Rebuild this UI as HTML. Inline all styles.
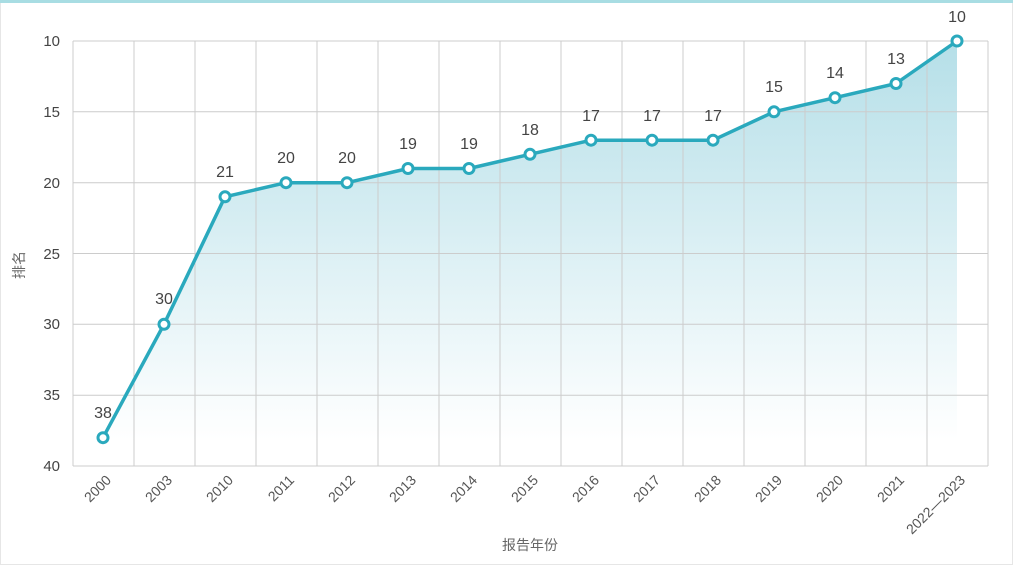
<!DOCTYPE html>
<html><head><meta charset="utf-8"><style>
html,body{margin:0;padding:0;background:#fff;}
svg{display:block;font-family:"Liberation Sans","Noto Sans CJK SC",sans-serif;}
</style></head><body>
<svg width="1013" height="565" viewBox="0 0 1013 565" xmlns="http://www.w3.org/2000/svg">
<defs>
<linearGradient id="fill" x1="0" y1="41" x2="0" y2="440" gradientUnits="userSpaceOnUse">
<stop offset="0" stop-color="#b5dfe8"/>
<stop offset="1" stop-color="#ffffff"/>
</linearGradient>
</defs>
<rect x="0" y="0" width="1013" height="565" fill="#fff" stroke="#e6e6e6" stroke-width="2"/>
<rect x="0" y="0" width="1013" height="3" fill="#a8dde3"/>
<polygon fill="url(#fill)" points="103,437.7 164,324.3 225,196.8 286,182.7 347,182.7 408,168.5 469,168.5 530,154.3 591,140.2 652,140.2 713,140.2 774,111.8 835,97.7 896,83.5 957,41 957,466 103,466"/>
<g stroke="#cccccc" stroke-width="1" fill="none">
<line x1="73" y1="41" x2="988" y2="41"/>
<line x1="73" y1="111.8" x2="988" y2="111.8"/>
<line x1="73" y1="182.7" x2="988" y2="182.7"/>
<line x1="73" y1="253.5" x2="988" y2="253.5"/>
<line x1="73" y1="324.3" x2="988" y2="324.3"/>
<line x1="73" y1="395.2" x2="988" y2="395.2"/>
<line x1="73" y1="466" x2="988" y2="466"/>
<line x1="73" y1="41" x2="73" y2="466"/><line x1="134" y1="41" x2="134" y2="466"/><line x1="195" y1="41" x2="195" y2="466"/><line x1="256" y1="41" x2="256" y2="466"/><line x1="317" y1="41" x2="317" y2="466"/><line x1="378" y1="41" x2="378" y2="466"/><line x1="439" y1="41" x2="439" y2="466"/><line x1="500" y1="41" x2="500" y2="466"/><line x1="561" y1="41" x2="561" y2="466"/><line x1="622" y1="41" x2="622" y2="466"/><line x1="683" y1="41" x2="683" y2="466"/><line x1="744" y1="41" x2="744" y2="466"/><line x1="805" y1="41" x2="805" y2="466"/><line x1="866" y1="41" x2="866" y2="466"/><line x1="927" y1="41" x2="927" y2="466"/><line x1="988" y1="41" x2="988" y2="466"/>
</g>
<g fill="#444" font-size="15" text-anchor="end">
<text x="60" y="46">10</text><text x="60" y="117">15</text><text x="60" y="188">20</text><text x="60" y="259">25</text><text x="60" y="329">30</text><text x="60" y="400">35</text><text x="60" y="471">40</text>
</g>
<text x="24" y="265" fill="#666" font-size="14" text-anchor="middle" transform="rotate(-90 24 265)">排名</text>
<text x="530" y="550" fill="#666" font-size="14" text-anchor="middle">报告年份</text>
<g fill="#555" font-size="14" text-anchor="end">
<text transform="translate(112,481) rotate(-45)">2000</text>
<text transform="translate(173,481) rotate(-45)">2003</text>
<text transform="translate(234,481) rotate(-45)">2010</text>
<text transform="translate(295,481) rotate(-45)">2011</text>
<text transform="translate(356,481) rotate(-45)">2012</text>
<text transform="translate(417,481) rotate(-45)">2013</text>
<text transform="translate(478,481) rotate(-45)">2014</text>
<text transform="translate(539,481) rotate(-45)">2015</text>
<text transform="translate(600,481) rotate(-45)">2016</text>
<text transform="translate(661,481) rotate(-45)">2017</text>
<text transform="translate(722,481) rotate(-45)">2018</text>
<text transform="translate(783,481) rotate(-45)">2019</text>
<text transform="translate(844,481) rotate(-45)">2020</text>
<text transform="translate(905,481) rotate(-45)">2021</text>
<text transform="translate(966,481) rotate(-45)">2022—2023</text>
</g>
<polyline fill="none" stroke="#2aa9bd" stroke-width="3.5" stroke-linejoin="round" points="103,437.7 164,324.3 225,196.8 286,182.7 347,182.7 408,168.5 469,168.5 530,154.3 591,140.2 652,140.2 713,140.2 774,111.8 835,97.7 896,83.5 957,41"/>
<g fill="#fff" stroke="#2aa9bd" stroke-width="3">
<circle cx="103" cy="437.7" r="5"/><circle cx="164" cy="324.3" r="5"/><circle cx="225" cy="196.8" r="5"/><circle cx="286" cy="182.7" r="5"/><circle cx="347" cy="182.7" r="5"/><circle cx="408" cy="168.5" r="5"/><circle cx="469" cy="168.5" r="5"/><circle cx="530" cy="154.3" r="5"/><circle cx="591" cy="140.2" r="5"/><circle cx="652" cy="140.2" r="5"/><circle cx="713" cy="140.2" r="5"/><circle cx="774" cy="111.8" r="5"/><circle cx="835" cy="97.7" r="5"/><circle cx="896" cy="83.5" r="5"/><circle cx="957" cy="41" r="5"/>
</g>
<g fill="#444" font-size="16" text-anchor="middle">
<text x="103" y="418">38</text><text x="164" y="304">30</text><text x="225" y="177">21</text><text x="286" y="163">20</text><text x="347" y="163">20</text><text x="408" y="149">19</text><text x="469" y="149">19</text><text x="530" y="135">18</text><text x="591" y="121">17</text><text x="652" y="121">17</text><text x="713" y="121">17</text><text x="774" y="92">15</text><text x="835" y="78">14</text><text x="896" y="64">13</text><text x="957" y="22">10</text>
</g>
</svg>
</body></html>
